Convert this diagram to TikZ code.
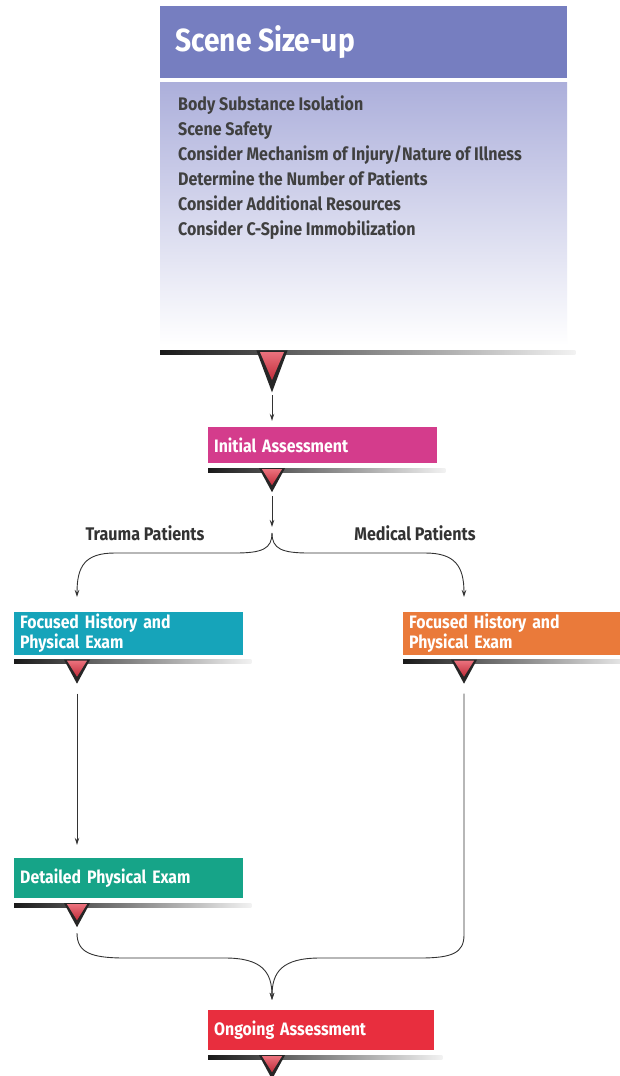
\documentclass[tikz,border=0pt]{standalone}
\usepackage{fontspec}
\setmainfont{Fira Sans}[FakeStretch=0.88]
\usetikzlibrary{arrows.meta,calc}

\definecolor{sizeupblue}{RGB}{118,126,192}
\definecolor{sizeuplav}{RGB}{172,175,219}
\definecolor{initialpink}{RGB}{212,60,140}
\definecolor{traumacyan}{RGB}{22,164,186}
\definecolor{medicalorange}{RGB}{234,122,58}
\definecolor{detailgreen}{RGB}{22,164,136}
\definecolor{ongoingred}{RGB}{232,46,62}
\definecolor{notchred}{RGB}{226,52,68}

\tikzset{
	stage/.style={rectangle, anchor=west, inner xsep=6pt, inner ysep=2pt, text=white, align=left, font=\bfseries\fontsize{18}{20}\selectfont},
	flow/.style={draw=black!80, line width=0.9pt, -{Stealth[length=7pt,width=4.5pt]}},
	branch/.style={text=black!80, font=\bfseries\fontsize{18.3}{20}\selectfont},
	notch/.pic={
		\fill[black!85] (-13,0) -- (13,0) -- (0,24) -- cycle;
		\shade[top color=notchred!70!white, bottom color=notchred!85!black] (-10,1) -- (10,1) -- (0,17) -- cycle;
		\coordinate (-tip) at (0,24);
	}
}

\newcommand\basebar[1]{\shade[left color=black!90, middle color=black!80, right color=black!5] ($(#1.south west)+(0,5)$) rectangle ($(#1.south east)+(8,9)$);}

\begin{document}
\begin{tikzpicture}[x=1pt,y=-1pt]
			\useasboundingbox[fill=white] (0,0) rectangle (619,1076);

			\node[anchor=north west, minimum width=407, minimum height=72, inner xsep=15pt, fill=sizeupblue, text=white, font=\bfseries\fontsize{32}{34}\selectfont] (sizeup) at (160,6) {\makebox[377pt][l]{Scene Size-up}};
			\node[anchor=north west, minimum width=407, minimum height=263, inner sep=0pt, top color=sizeuplav, middle color=sizeuplav!90!white, bottom color=white] (body) at (160,82) {};
			\node[anchor=north west, inner sep=0pt, align=left, text=black!75, font=\bfseries\fontsize{18.2}{25}\selectfont] (checklist) at (178,96) {Body Substance Isolation\\Scene Safety\\Consider Mechanism of Injury/Nature of Illness\\Determine the Number of Patients\\Consider Additional Resources\\Consider C-Spine Immobilization};

			\node[stage, fill=initialpink, minimum height=36, text width=217pt] (ia) at (208,445) {Initial Assessment};
			\node[stage, fill=traumacyan, minimum height=43, text width=217pt] (fl) at (14,633) {Focused History and\\Physical Exam};
			\node[stage, fill=medicalorange, minimum height=43, text width=212pt] (fr) at (403,633) {Focused History and\\Physical Exam};
			\node[stage, fill=detailgreen, minimum height=40, text width=217pt] (dpe) at (14,878) {Detailed Physical Exam};
			\node[stage, fill=ongoingred, minimum height=40, text width=214pt] (oa) at (208,1030) {Ongoing Assessment};

			\node[branch] (trauma) at (145,533) {Trauma Patients};
			\node[branch] (medical) at (415,533) {Medical Patients};

			\basebar{body}
			\basebar{ia}
			\basebar{fl}
			\basebar{fr}
			\basebar{dpe}
			\basebar{oa}

			\pic[xscale=1.2, yscale=1.75] (ssn) at ($(body.south west)+(112,5)$) {notch};
			\pic (ian) at ($(ia.south west)+(64,5)$) {notch};
			\pic (fln) at ($(fl.south west)+(63,5)$) {notch};
			\pic (frn) at ($(fr.south west)+(61,5)$) {notch};
			\pic (dpen) at ($(dpe.south west)+(63,5)$) {notch};
			\pic (oan) at ($(oa.south west)+(64,5)$) {notch};

			\coordinate (split) at (272,533);
			\coordinate (flIn) at (77,597);
			\coordinate (frIn) at (464,597);
			\coordinate (oaIn) at (272,1000);

			\draw[flow, shorten <=3pt, shorten >=6pt] (ssn-tip) -- (ssn-tip |- ia.north);
			\draw[flow, shorten <=4pt, shorten >=6pt] (ian-tip) -- (split);
			\draw[flow] (split) .. controls (272,549) and (262,553) .. (235,553) -- (115,553) .. controls (85,553) and (77,566) .. (flIn);
			\draw[flow] (split) .. controls (272,549) and (282,553) .. (309,553) -- (425,553) .. controls (455,553) and (464,566) .. (frIn);
			\draw[flow, shorten <=10pt, shorten >=13pt] (fln-tip) -- (fln-tip |- dpe.north);
			\draw[flow, shorten <=6pt] (dpen-tip) .. controls (77,953) and (92,958) .. (125,958) -- (225,958) .. controls (262,958) and (272,972) .. (oaIn);
			\draw[flow, shorten <=10pt] (frn-tip) -- (464,935) .. controls (464,953) and (452,958) .. (420,958) -- (320,958) .. controls (282,958) and (272,972) .. (oaIn);

		\end{tikzpicture}
\end{document}
